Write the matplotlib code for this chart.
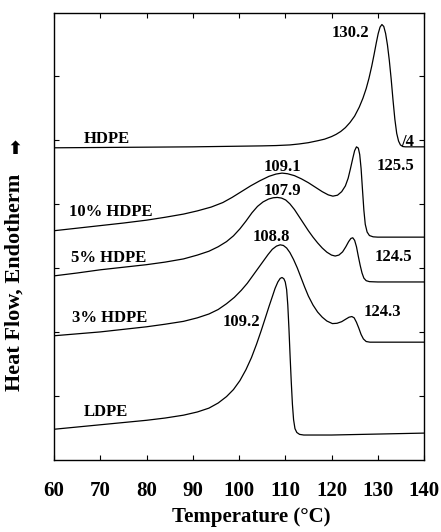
import matplotlib
matplotlib.use("Agg")
import matplotlib.pyplot as plt

# ---- data (shifted arbitrary units) ----
t_hdpe = [60, 70, 80, 90, 100, 105, 108, 111, 113, 115, 117, 118.5, 120, 121, 122, 123,
          124, 125, 126, 126.8, 127.5, 128.1, 128.7, 129.2, 129.7, 130.1, 130.5, 130.9,
          131.3, 131.7, 132.1, 132.5, 132.9, 133.3, 133.7, 134.1, 134.5, 134.9, 135.4,
          136, 140]
v_hdpe = [4.875, 4.88, 4.885, 4.89, 4.90, 4.905, 4.91, 4.92, 4.935, 4.955, 4.985, 5.01,
          5.05, 5.085, 5.13, 5.19, 5.27, 5.37, 5.51, 5.65, 5.80, 5.96, 6.15, 6.33, 6.52,
          6.66, 6.76, 6.80, 6.77, 6.66, 6.48, 6.24, 5.95, 5.62, 5.32, 5.10, 4.98, 4.92,
          4.895, 4.89, 4.89]

t_10 = [60, 65, 70, 75, 80, 84, 88, 91, 94, 96.5, 98.5, 100.5, 102.5, 104.5, 106.5, 108,
        109.3, 110.5, 112, 113.5, 115, 116.5, 118, 119.3, 120.3, 121.3, 122.2, 123, 123.6,
        124.1, 124.6, 125.0, 125.4, 125.8, 126.1, 126.4, 126.7, 127.0, 127.3, 127.7,
        128.2, 129, 130, 140]
v_10 = [3.58, 3.62, 3.66, 3.70, 3.745, 3.79, 3.84, 3.89, 3.95, 4.02, 4.10, 4.19, 4.28,
        4.36, 4.43, 4.465, 4.48, 4.47, 4.44, 4.39, 4.33, 4.26, 4.19, 4.14, 4.12, 4.135,
        4.19, 4.28, 4.40, 4.55, 4.71, 4.83, 4.89, 4.87, 4.77, 4.55, 4.22, 3.90, 3.68,
        3.56, 3.505, 3.485, 3.48, 3.48]

t_5 = [60, 65, 70, 75, 80, 84, 88, 91, 93.5, 95.5, 97.3, 98.8, 100.2, 101.5, 102.8, 104,
       105.2, 106.4, 107.4, 108.3, 109.2, 110.1, 111, 112, 113, 114, 115, 116, 117, 118,
       119, 120, 120.8, 121.6, 122.4, 123.1, 123.7, 124.2, 124.6, 125.0, 125.4, 125.8,
       126.2, 126.6, 127.0, 127.5, 128.2, 130, 140]
v_5 = [2.875, 2.92, 2.97, 3.01, 3.05, 3.09, 3.14, 3.20, 3.26, 3.33, 3.41, 3.50, 3.61,
       3.73, 3.86, 3.96, 4.03, 4.075, 4.095, 4.10, 4.09, 4.06, 4.00, 3.91, 3.80, 3.69,
       3.58, 3.48, 3.39, 3.31, 3.245, 3.20, 3.185, 3.20, 3.25, 3.33, 3.41, 3.46, 3.47,
       3.43, 3.33, 3.18, 3.04, 2.92, 2.84, 2.80, 2.785, 2.78, 2.78]

t_3 = [60, 65, 70, 75, 80, 84, 88, 91, 93.5, 95.5, 97.3, 99, 100.5, 101.8, 103, 104.2,
       105.3, 106.3, 107.2, 108.1, 108.9, 109.6, 110.3, 111, 111.8, 112.6, 113.4, 114.2,
       115, 116, 117, 118, 119, 120.2, 121.2, 122.2, 123.1, 123.8, 124.4, 124.9, 125.4,
       125.9, 126.4, 126.9, 127.5, 128.3, 140]
v_3 = [1.94, 1.97, 2.00, 2.04, 2.08, 2.12, 2.165, 2.22, 2.28, 2.35, 2.44, 2.54, 2.65,
       2.76, 2.88, 3.00, 3.11, 3.21, 3.29, 3.34, 3.36, 3.35, 3.31, 3.24, 3.13, 3.00,
       2.85, 2.70, 2.56, 2.42, 2.31, 2.23, 2.17, 2.13, 2.135, 2.16, 2.20, 2.23, 2.24,
       2.22, 2.15, 2.06, 1.96, 1.89, 1.85, 1.84, 1.84]

t_ld = [60, 65, 70, 75, 80, 84, 88, 91, 93.5, 95.5, 97.3, 98.8, 100.2, 101.5, 102.7, 103.8,
        104.8, 105.7, 106.5, 107.2, 107.8, 108.4, 108.9, 109.3, 109.7, 110.0, 110.3,
        110.55, 110.8, 111.05, 111.3, 111.55, 111.8, 112.1, 112.5, 113.1, 114, 120, 140]
v_ld = [0.48, 0.515, 0.55, 0.585, 0.62, 0.655, 0.70, 0.75, 0.81, 0.89, 0.99, 1.10, 1.24,
        1.41, 1.60, 1.81, 2.02, 2.22, 2.40, 2.55, 2.68, 2.78, 2.835, 2.85, 2.83, 2.78,
        2.66, 2.42, 2.05, 1.62, 1.22, 0.87, 0.63, 0.49, 0.43, 0.40, 0.39, 0.39, 0.42]

curve_names = ["HDPE", "10% HDPE", "5% HDPE", "3% HDPE", "LDPE"]
name_t = [71.5, 72.3, 71.9, 72.1, 71.2]
name_v = [5.02, 3.875, 3.16, 2.22, 0.75]

peak_labels = ["130.2", "109.1", "107.9", "108.8", "125.5", "124.5", "124.3", "109.2", "/4"]
peak_t = [124.0, 109.3, 109.3, 106.9, 133.9, 133.3, 131.1, 100.6, 136.5]
peak_v = [6.67, 4.58, 4.20, 3.48, 4.59, 3.17, 2.31, 2.16, 4.97]

x_ticks = [60, 70, 80, 90, 100, 110, 120, 130, 140]

# ---- figure ----
plt.rcParams["font.family"] = ["Liberation Serif", "DejaVu Serif"]
plt.rcParams["font.weight"] = "bold"

fig = plt.figure(figsize=(4.41, 5.32), dpi=100)
ax = fig.add_axes([54 / 441, 72 / 532, 370 / 441, 447 / 532])

for t, v in [(t_hdpe, v_hdpe), (t_10, v_10), (t_5, v_5), (t_3, v_3), (t_ld, v_ld)]:
    ax.plot(t, v, color="black", lw=0.9, solid_joinstyle="round")

for s, x, y in zip(curve_names, name_t, name_v):
    ax.text(x, y, s, ha="center", va="center", fontsize=12, fontweight="bold")
for s, x, y in zip(peak_labels, peak_t, peak_v):
    ax.text(x, y, s, ha="center", va="center", fontsize=12, fontweight="bold")

ax.set_xlim(60, 140)
ax.set_ylim(0, 6.98)
ax.set_xticks(x_ticks)
ax.set_xticklabels([str(x) for x in x_ticks])
ax.set_yticks([1, 2, 3, 4, 5, 6])
ax.set_yticklabels([])
ax.tick_params(direction="in", top=True, right=True, length=3.5, width=0.8,
               labelsize=15, pad=15)
for lab in ax.get_xticklabels():
    lab.set_fontweight("bold")
for sp in ax.spines.values():
    sp.set_linewidth(1.0)

fig.text(251 / 441, 1 - 517 / 532, "Temperature (\u00b0C)", ha="center", va="center",
         fontsize=15, fontweight="bold")
fig.text(15 / 441, 1 - 282 / 532, "Heat Flow, Endotherm", rotation=90,
         ha="center", va="center", fontsize=16, fontweight="bold")
fig.text(15 / 441, 1 - 149 / 532, "\u2b06", ha="center", va="center",
         fontsize=13, family=["DejaVu Sans"])

fig.savefig("out.png", dpi=100)
